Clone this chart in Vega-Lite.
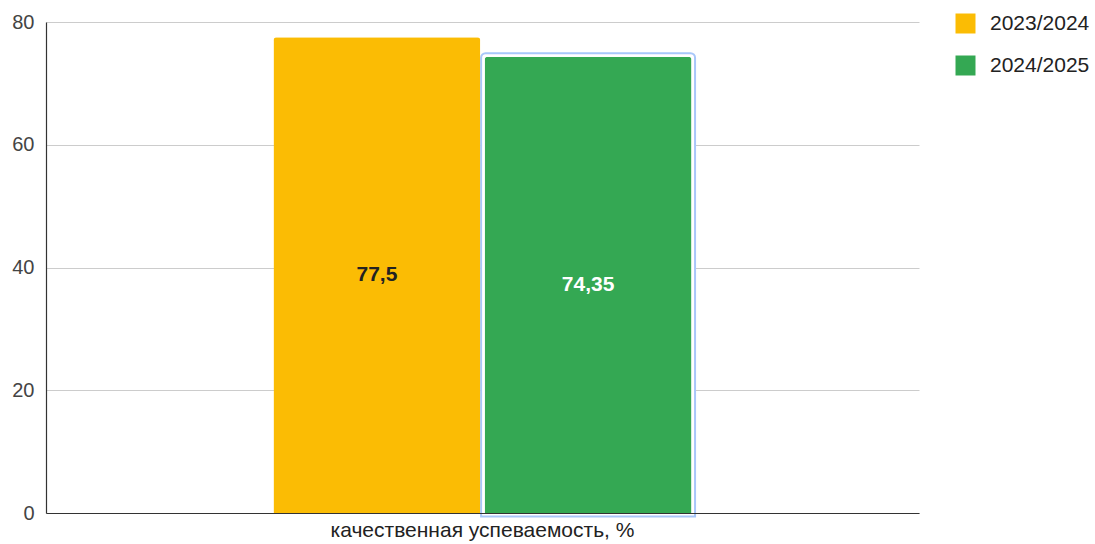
{
  "$schema": "https://vega.github.io/schema/vega-lite/v6.json",
  "width": 873,
  "height": 491,
  "autosize": {"type": "none"},
  "padding": {"left": 46, "top": 22, "right": 176, "bottom": 31},
  "background": "white",
  "config": {"font": "Arial", "view": {"stroke": null}},
  "data": {"values": [
    {"category": "качественная успеваемость, %", "year": "2023/2024", "value": 77.5, "label": "77,5"},
    {"category": "качественная успеваемость, %", "year": "2024/2025", "value": 74.35, "label": "74,35"}
  ]},
  "encoding": {
    "x": {"field": "category", "type": "nominal", "scale": {"paddingInner": 0, "paddingOuter": 0.544},
      "axis": {"title": null, "labelAngle": 0, "labelFontSize": 21, "labelLimit": 0, "labelColor": "#222", "labelPadding": 6, "ticks": false, "domainColor": "#333", "domainWidth": 1.2, "zindex": 1}},
    "xOffset": {"field": "year", "type": "nominal", "scale": {"paddingInner": 0.02}}
  },
  "layer": [
    {
      "transform": [{"filter": "datum.year === '2024/2025'"}],
      "mark": {"type": "bar", "fill": "white", "stroke": "#a8c7fa", "strokeWidth": 9, "cornerRadiusTopLeft": 1, "cornerRadiusTopRight": 1},
      "encoding": {"y": {"field": "value", "type": "quantitative"}}
    },
    {
      "transform": [{"filter": "datum.year === '2024/2025'"}],
      "mark": {"type": "bar", "fill": "white", "stroke": "white", "strokeWidth": 5, "cornerRadiusTopLeft": 1, "cornerRadiusTopRight": 1},
      "encoding": {"y": {"field": "value", "type": "quantitative"}}
    },
    {
      "mark": {"type": "bar", "cornerRadiusTopLeft": 3, "cornerRadiusTopRight": 3},
      "encoding": {
        "y": {"field": "value", "type": "quantitative", "scale": {"domain": [0, 80]},
          "axis": {"title": null, "values": [0, 20, 40, 60, 80], "ticks": false, "labelPadding": 12, "labelFontSize": 20, "labelColor": "#444", "gridColor": "#cccccc", "domainColor": "#333", "domainWidth": 1.2}},
        "color": {"field": "year", "type": "nominal", "scale": {"domain": ["2023/2024", "2024/2025"], "range": ["#fbbc04", "#34a853"]},
          "legend": {"title": null, "orient": "none", "legendX": 909, "legendY": -9, "symbolType": "square", "symbolSize": 400, "symbolStrokeWidth": 0, "labelFontSize": 21, "labelColor": "#222", "rowPadding": 20, "labelOffset": 14}}
      }
    },
    {
      "transform": [{"calculate": "datum.value / 2", "as": "mid"}],
      "mark": {"type": "text", "fontSize": 21, "fontWeight": "bold", "baseline": "middle", "align": "center"},
      "encoding": {
        "y": {"field": "mid", "type": "quantitative"},
        "text": {"field": "label"},
        "color": {"condition": {"test": "datum.year === '2024/2025'", "value": "white"}, "value": "#222"}
      }
    }
  ]
}
